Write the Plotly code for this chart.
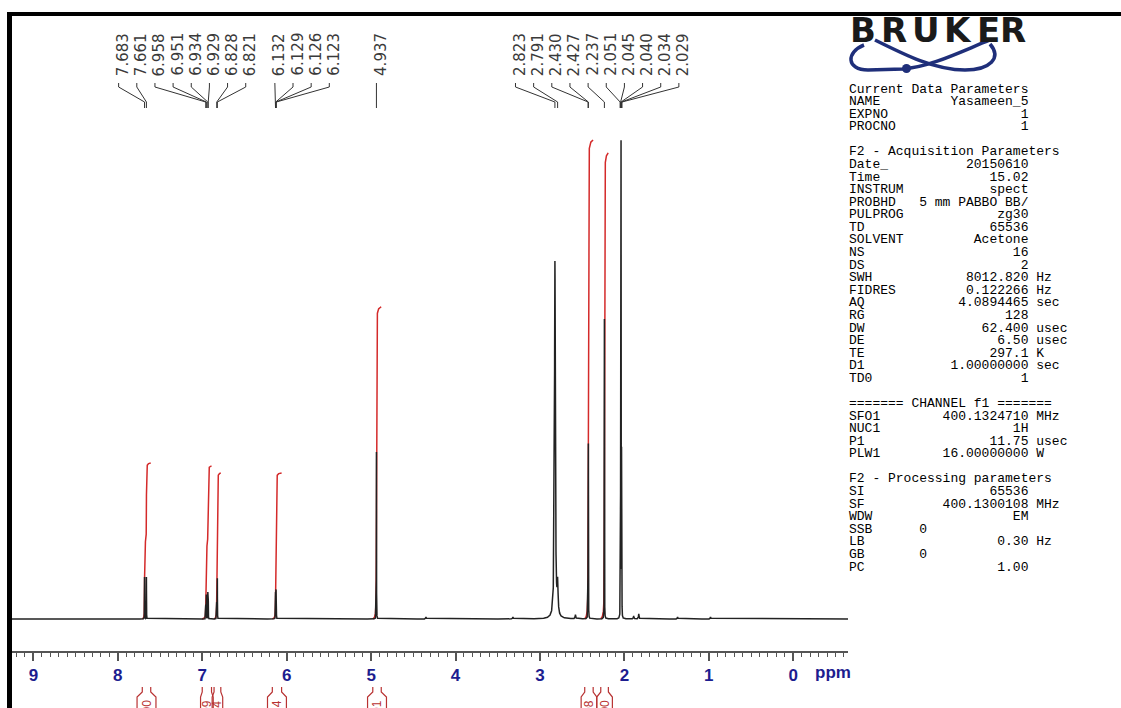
import numpy as np
import plotly.graph_objects as go

# ---------------- data ----------------
# 1H peaks: chemical shift (ppm), intensity (arbitrary units), half width (ppm)
PEAK_PPM = [7.683, 7.661, 6.958, 6.951, 6.934, 6.929, 6.828, 6.821,
            6.132, 6.129, 6.126, 6.123, 4.937,
            2.823, 2.791, 2.430, 2.427, 2.237,
            2.051, 2.045, 2.040, 2.034, 2.029]
PEAK_HEIGHT = [42, 42, 24, 24, 26, 26, 40, 40,
               24, 25, 25, 24, 167,
               357, 30, 162, 162, 300,
               22, 160, 470, 160, 22]
PEAK_HWHM = [0.0009] * 13 + [0.006, 0.006] + [0.0009] * 8

# small impurity / noise bumps
SMALL_PPM = [4.35, 3.32, 2.58, 1.89, 1.83, 1.37, 0.98]
SMALL_HEIGHT = [2, 2, 4, 3, 5, 2, 2]

# integrals: region start / end (ppm), drawn height, printed value
INT_START = [7.71, 7.00, 6.86, 6.17, 4.98, 2.47, 2.28]
INT_END = [7.61, 6.89, 6.78, 6.06, 4.88, 2.37, 2.19]
INT_HEIGHT = [156, 153, 146, 146, 312, 479, 466]
INT_TEXT = ["1.00", "0.99", "0.94", "0.94", "2.01", "3.08", "3.00"]

TICK_VALS = [0, 1, 2, 3, 4, 5, 6, 7, 8, 9]
TICK_TEXT = ["0", "1", "2", "3", "4", "5", "6", "7", "8", "9"]

# acquisition parameter panel: (key, value, unit)
PARAMS = [
    ("Current Data Parameters", "", ""),
    ("NAME", "Yasameen_5", ""),
    ("EXPNO", "1", ""),
    ("PROCNO", "1", ""),
    ("", "", ""),
    ("F2 - Acquisition Parameters", "", ""),
    ("Date_", "20150610", ""),
    ("Time", "15.02", ""),
    ("INSTRUM", "spect", ""),
    ("PROBHD", "5 mm PABBO BB/", ""),
    ("PULPROG", "zg30", ""),
    ("TD", "65536", ""),
    ("SOLVENT", "Acetone", ""),
    ("NS", "16", ""),
    ("DS", "2", ""),
    ("SWH", "8012.820", "Hz"),
    ("FIDRES", "0.122266", "Hz"),
    ("AQ", "4.0894465", "sec"),
    ("RG", "128", ""),
    ("DW", "62.400", "usec"),
    ("DE", "6.50", "usec"),
    ("TE", "297.1", "K"),
    ("D1", "1.00000000", "sec"),
    ("TD0", "1", ""),
    ("", "", ""),
    ("======= CHANNEL f1 =======", "", ""),
    ("SFO1", "400.1324710", "MHz"),
    ("NUC1", "1H", ""),
    ("P1", "11.75", "usec"),
    ("PLW1", "16.00000000", "W"),
    ("", "", ""),
    ("F2 - Processing parameters", "", ""),
    ("SI", "65536", ""),
    ("SF", "400.1300108", "MHz"),
    ("WDW", "EM", ""),
    ("SSB", "0", "LEFT"),
    ("LB", "0.30", "Hz"),
    ("GB", "0", "LEFT"),
    ("PC", "1.00", ""),
]

# ---------------- layout geometry ----------------
W, H = 1121, 708
ML, MR, MT, MB = 12, 273, 16, 0
PW, PH = W - ML - MR, H - MT - MB
X_RANGE = [9.253, -0.648]
AXIS_PX = 651          # pixel row of the ppm axis
BASE_PX = 619          # pixel row of the spectrum baseline
Y_RANGE = [BASE_PX - AXIS_PX, BASE_PX - MT]
STRIP = (H - AXIS_PX) / PH


def px(xp):
    return (xp - ML) / PW


def py(yp):
    return (H - MB - yp) / PH


# label slots for the peak list (evenly spaced)
LABEL_PITCH = 0.215
LABEL_GROUPS = [(0, 8, 7.99), (8, 4, 6.14), (12, 1, 4.937), (13, 10, 3.29)]
label_slot = [0.0] * len(PEAK_PPM)
for start, n, first in LABEL_GROUPS:
    for k in range(n):
        label_slot[start + k] = first - k * LABEL_PITCH

# ---------------- spectrum ----------------
pk = np.array(PEAK_PPM + SMALL_PPM)
hk = np.array(PEAK_HEIGHT + SMALL_HEIGHT, dtype=float)
gk = np.array(PEAK_HWHM + [0.004] * len(SMALL_PPM))
grids = [np.linspace(X_RANGE[1], X_RANGE[0], 6000)]
for p, g in zip(pk, gk):
    grids.append(np.linspace(p - 40 * g, p + 40 * g, 801))
xs = np.unique(np.concatenate(grids))
ys = np.zeros_like(xs)
for p, h, g in zip(pk, hk, gk):
    ys += h * g * g / ((xs - p) ** 2 + g * g)

fig = go.Figure()

# integrals (red), computed from the peaks inside each region
P = np.array(PEAK_PPM)
Hh = np.array(PEAK_HEIGHT, dtype=float)
G = np.array(PEAK_HWHM)
for a, b, hgt in zip(INT_START, INT_END, INT_HEIGHT):
    sel = (P <= a) & (P >= b)
    xi = np.linspace(a, b, 500)
    F = np.zeros_like(xi)
    for p, h, g in zip(P[sel], Hh[sel], G[sel]):
        F += h * g * np.arctan((p - xi) / g)
    yi = hgt * (F - F[0]) / (F[-1] - F[0])
    fig.add_trace(go.Scatter(x=xi, y=yi, mode="lines",
                             line=dict(color="#d42a2a", width=1.5),
                             hoverinfo="skip", xaxis="x", yaxis="y"))

fig.add_trace(go.Scatter(x=xs, y=ys, mode="lines",
                         line=dict(color="#222222", width=1.5),
                         hoverinfo="skip", xaxis="x", yaxis="y"))

# leader lines from peak labels to peaks
lx, ly = [], []
for p, s in zip(PEAK_PPM, label_slot):
    lx += [s, s, p, p, None]
    ly += [BASE_PX - 83, BASE_PX - 87, BASE_PX - 102, BASE_PX - 108, None]
fig.add_trace(go.Scatter(x=lx, y=ly, mode="lines",
                         line=dict(color="#333333", width=1),
                         hoverinfo="skip", xaxis="x", yaxis="y"))

annotations = []
for p, s in zip(PEAK_PPM, label_slot):
    annotations.append(dict(
        x=s, y=BASE_PX - 78, xref="x", yref="y", text=f"{p:.3f}",
        textangle=-90, showarrow=False, xanchor="center", yanchor="bottom",
        xshift=4, font=dict(family="DejaVu Sans", size=15, color="#3a3a3a")))

annotations.append(dict(
    x=px(833), y=py(672), xref="paper", yref="paper", text="ppm",
    showarrow=False, xanchor="center", yanchor="middle",
    font=dict(family="Liberation Sans", size=17, color="#1d1d8f", weight="bold")))

# integral labels below the axis
shapes = []
centers = [(a + b) / 2 for a, b in zip(INT_START, INT_END)]
for i, (a, b, t) in enumerate(zip(INT_START, INT_END, INT_TEXT)):
    c = centers[i]
    half = 0.112
    if i > 0:
        half = min(half, (centers[i - 1] - c) / 2)
    if i < len(centers) - 1:
        half = min(half, (c - centers[i + 1]) / 2)
    half = max(half, abs(a - b) / 2 + 0.02)
    left, right = c + half, c - half
    path = (f"M {left},-5 L {left},11 L {a},16 L {a},21 "
            f"M {right},-5 L {right},11 L {b},16 L {b},21")
    shapes.append(dict(type="path", path=path, xref="x2", yref="y2",
                       line=dict(color="#b83232", width=1.2)))
    annotations.append(dict(
        x=c, y=10, xref="x2", yref="y2", text=t, textangle=-90,
        showarrow=False, xanchor="center", yanchor="top",
        font=dict(family="Liberation Sans", size=12, color="#b83232")))

# frame (black top and left bars)
shapes.append(dict(type="rect", xref="paper", yref="paper",
                   x0=px(7), x1=px(W + 5), y0=py(16), y1=py(12),
                   fillcolor="black", line=dict(width=0)))
shapes.append(dict(type="rect", xref="paper", yref="paper",
                   x0=px(7), x1=px(12), y0=py(H + 5), y1=py(12),
                   fillcolor="black", line=dict(width=0)))


# Bruker logo
def pth(cmds):
    out = []
    for c in cmds:
        if isinstance(c, str):
            out.append(c)
        else:
            out.append(f"{px(c[0]):.5f},{py(c[1]):.5f}")
    return " ".join(out)


logo_blue = "#1f2f7a"
stroke_a = pth(["M", (864, 45), "C", (846, 52), (846, 70), (868, 70),
                "L", (903, 69), "C", (930, 67), (960, 52), (990, 40)])
stroke_b = pth(["M", (875, 40), "C", (905, 55), (935, 70), (965, 70),
                "C", (990, 70), (1002, 58), (990, 44)])
for s in (stroke_a, stroke_b):
    shapes.append(dict(type="path", path=s, xref="paper", yref="paper",
                       line=dict(color=logo_blue, width=3.5)))
shapes.append(dict(type="circle", xref="paper", yref="paper",
                   x0=px(902), x1=px(911), y0=py(73), y1=py(64),
                   fillcolor=logo_blue, line=dict(width=0)))
for ch, cx in zip("BRUKER", [863, 894, 926, 958, 988, 1013]):
    annotations.append(dict(
        x=px(cx), y=py(30), xref="paper", yref="paper", text=ch,
        showarrow=False, xanchor="center", yanchor="middle",
        font=dict(family="DejaVu Sans", size=34, color="#1a1a1a", weight="bold")))

# parameter panel text
NB = "\u00a0"
for i, (k, v, u) in enumerate(PARAMS):
    if not k:
        continue
    if u == "LEFT":
        line = k.ljust(9) + v
    elif v:
        line = k + " " * max(1, 23 - len(k) - len(v)) + v
        if u:
            line += " " + u
    else:
        line = k
    annotations.append(dict(
        x=px(847), y=py(89 + i * 12.58), xref="paper", yref="paper",
        text=line.replace(" ", NB), showarrow=False,
        xanchor="left", yanchor="middle",
        font=dict(family="Liberation Mono", size=13, color="#000000")))

fig.update_layout(
    template="none",
    width=W, height=H, autosize=False,
    margin=dict(l=ML, r=MR, t=MT, b=MB, pad=0),
    paper_bgcolor="white", plot_bgcolor="rgba(0,0,0,0)",
    showlegend=False,
    xaxis=dict(range=X_RANGE, domain=[0, 1], anchor="y", automargin=False,
               showline=True, linecolor="#555555", linewidth=2,
               ticks="outside", ticklen=8, tickwidth=1.5, tickcolor="#555555",
               tickvals=TICK_VALS, ticktext=TICK_TEXT,
               tickfont=dict(family="Liberation Sans", size=17,
                             color="#1d1d8f", weight="bold"),
               showgrid=False, zeroline=False, fixedrange=True,
               minor=dict(dtick=0.1, tick0=0, ticks="outside", ticklen=4,
                          tickwidth=1, tickcolor="#555555", showgrid=False)),
    yaxis=dict(range=Y_RANGE, domain=[STRIP, 1], visible=False,
               fixedrange=True, automargin=False),
    xaxis2=dict(matches="x", anchor="y2", domain=[0, 1], visible=False,
                fixedrange=True),
    yaxis2=dict(range=[0, H - AXIS_PX], domain=[0, STRIP], visible=False,
                fixedrange=True, automargin=False),
    annotations=annotations,
    shapes=shapes,
)

fig.write_html("out.html", config={"displayModeBar": False},
               post_script="document.body.style.margin='0';"
                           "document.body.style.overflow='hidden';")
